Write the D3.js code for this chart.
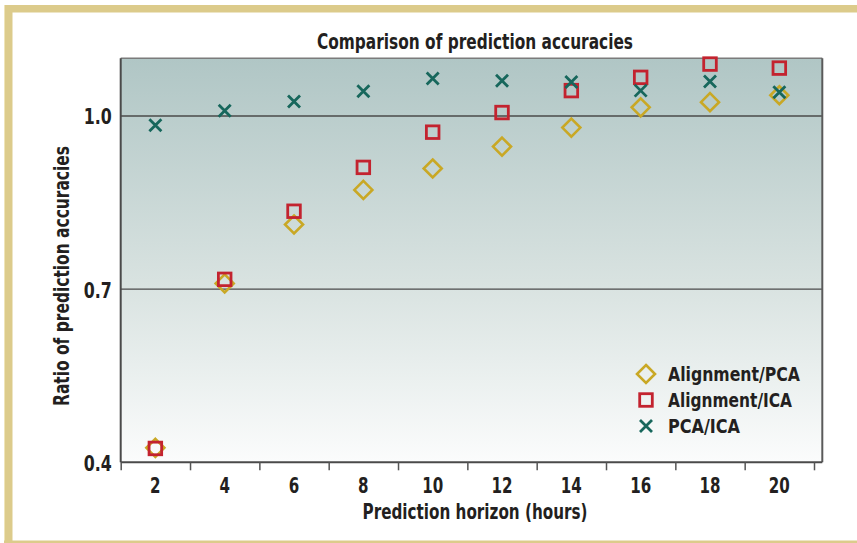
<!DOCTYPE html>
<html>
<head>
<meta charset="utf-8">
<script src="https://cdn.jsdelivr.net/npm/d3@7"></script>
<style>
  html, body { margin: 0; padding: 0; background: #fff; }
  svg { display: block; }
  text { font-family: "Liberation Sans Narrow", "DejaVu Sans Condensed", "Liberation Sans", Arial, sans-serif; font-weight: bold; fill: #231f20; }
</style>
</head>
<body>
<svg id="chart" width="857" height="543"></svg>
<script>
const hours = [2, 4, 6, 8, 10, 12, 14, 16, 18, 20];
const alignmentPCA = [0.425, 0.710, 0.812, 0.872, 0.909, 0.947, 0.980, 1.015, 1.024, 1.036];
const alignmentICA = [0.424, 0.717, 0.835, 0.911, 0.972, 1.006, 1.044, 1.067, 1.090, 1.083];
const pcaICA = [0.984, 1.009, 1.025, 1.043, 1.065, 1.061, 1.059, 1.044, 1.060, 1.041];
const yTicks = [0.4, 0.7, 1.0];
const gridValues = [0.7, 1.0];
const xTickBounds = [1, 3, 5, 7, 9, 11, 13, 15, 17, 19, 21];
const seriesNames = ["Alignment/PCA", "Alignment/ICA", "PCA/ICA"];

(function () {
const svg = d3.select("#chart");
const W = 857, H = 543;
const frame = "#dccb8b";
const FONT = "\"Liberation Sans Narrow\", \"DejaVu Sans Condensed\", \"Liberation Sans\", Arial, sans-serif";

// outer frame
svg.append("rect").attr("x", 4).attr("y", 5).attr("width", W - 4).attr("height", 7.5).attr("fill", frame);
svg.append("rect").attr("x", 4).attr("y", 5).attr("width", 8.5).attr("height", H - 5).attr("fill", frame);
svg.append("rect").attr("x", 4).attr("y", 5).attr("width", 1).attr("height", H - 5).attr("fill", "#efe4b8");
svg.append("rect").attr("x", 4).attr("y", 540.5).attr("width", W - 4).attr("height", 3).attr("fill", frame);

const pl = 120.7, pr = 822.3, pt = 58.3, pb = 462.3;
const x = d3.scaleLinear().domain([1, 21]).range([pl, 814]);
const y = d3.scaleLinear().domain([0.4, 1.1]).range([pb, pt]);

const defs = svg.append("defs");
const grad = defs.append("linearGradient").attr("id", "bg").attr("x1", 0).attr("y1", 0).attr("x2", 0).attr("y2", 1);
grad.append("stop").attr("offset", "0%").attr("stop-color", "#b0c6c5");
grad.append("stop").attr("offset", "55%").attr("stop-color", "#d8e2e0");
grad.append("stop").attr("offset", "100%").attr("stop-color", "#fbfcfc");

svg.append("rect").attr("x", pl).attr("y", pt).attr("width", pr - pl).attr("height", pb - pt)
  .attr("fill", "url(#bg)");

// gridlines
svg.append("g").selectAll("line").data(gridValues).join("line")
  .attr("x1", pl).attr("x2", pr)
  .attr("y1", d => y(d)).attr("y2", d => y(d))
  .attr("stroke", "#4a4a4a").attr("stroke-width", 1.4);

// plot border
svg.append("line").attr("x1", pl).attr("x2", pr).attr("y1", pt).attr("y2", pt).attr("stroke", "#7b7b7b").attr("stroke-width", 1.5);
svg.append("line").attr("x1", pr).attr("x2", pr).attr("y1", pt).attr("y2", pb).attr("stroke", "#5a5a5a").attr("stroke-width", 2);

// x axis
const xAxis = d3.axisBottom(x).tickValues(xTickBounds).tickSize(8).tickFormat("");
const gx = svg.append("g").attr("transform", `translate(0,${pb})`).call(xAxis);
gx.select(".domain").attr("d", `M${pl},0H${pr}`).attr("stroke", "#4a4a4a").attr("stroke-width", 2);
gx.selectAll(".tick line").attr("stroke", "#555").attr("stroke-width", 1.5);

svg.append("g").selectAll("text").data(hours).join("text")
  .attr("x", d => x(d)).attr("y", 493)
  .attr("text-anchor", "middle").attr("font-size", 22)
  .attr("textLength", d => String(d).length * 10.5).attr("lengthAdjust", "spacingAndGlyphs")
  .text(d => d);

// y axis
const yAxis = d3.axisLeft(y).tickValues(yTicks).tickSize(0).tickFormat(d3.format(".1f"));
const gy = svg.append("g").attr("transform", `translate(${pl},0)`).call(yAxis);
gy.select(".domain").attr("d", `M0,${pt}V${pb}`).attr("stroke", "#4a4a4a").attr("stroke-width", 2);
gy.selectAll(".tick text").attr("x", -9).attr("dy", "0.36em")
  .attr("font-size", 22).attr("font-weight", "bold").attr("fill", "#231f20")
  .attr("font-family", FONT)
  .attr("textLength", 28).attr("lengthAdjust", "spacingAndGlyphs");

// titles
svg.append("text").attr("x", 475).attr("y", 49).attr("text-anchor", "middle")
  .attr("font-size", 21).attr("textLength", 316).attr("lengthAdjust", "spacingAndGlyphs")
  .text("Comparison of prediction accuracies");
svg.append("text").attr("x", 475).attr("y", 519).attr("text-anchor", "middle")
  .attr("font-size", 21).attr("textLength", 225).attr("lengthAdjust", "spacingAndGlyphs")
  .text("Prediction horizon (hours)");
svg.append("text").attr("transform", "translate(69,276) rotate(-90)").attr("text-anchor", "middle")
  .attr("font-size", 21).attr("textLength", 260).attr("lengthAdjust", "spacingAndGlyphs")
  .text("Ratio of prediction accuracies");

// markers
const cGold = "#c9a825", cRed = "#c3232f", cTeal = "#17675c";
function diamond(g, cx, cy) {
  g.append("path").attr("d", `M${cx},${cy - 9}L${cx + 9},${cy}L${cx},${cy + 9}L${cx - 9},${cy}Z`)
    .attr("fill", "none").attr("stroke", cGold).attr("stroke-width", 2.6);
}
function square(g, cx, cy) {
  g.append("rect").attr("x", cx - 6.3).attr("y", cy - 6.3).attr("width", 12.6).attr("height", 12.6)
    .attr("fill", "none").attr("stroke", cRed).attr("stroke-width", 2.8);
}
function cross(g, cx, cy) {
  g.append("path").attr("d", `M${cx - 6},${cy - 6}L${cx + 6},${cy + 6}M${cx + 6},${cy - 6}L${cx - 6},${cy + 6}`)
    .attr("stroke", cTeal).attr("stroke-width", 2.8).attr("fill", "none");
}

const gm = svg.append("g");
hours.forEach((h, i) => diamond(gm, x(h), y(alignmentPCA[i])));
hours.forEach((h, i) => square(gm, x(h), y(alignmentICA[i])));
hours.forEach((h, i) => cross(gm, x(h), y(pcaICA[i])));

// legend
const lg = svg.append("g");
const markers = [diamond, square, cross];
const lw = [132, 124, 72];
seriesNames.forEach((name, i) => {
  const cy = 374 + i * 26;
  markers[i](lg, 646, cy);
  lg.append("text").attr("x", 668).attr("y", cy + 7).attr("font-size", 20)
    .attr("textLength", lw[i]).attr("lengthAdjust", "spacingAndGlyphs").text(name);
});
})();
</script>
</body>
</html>
